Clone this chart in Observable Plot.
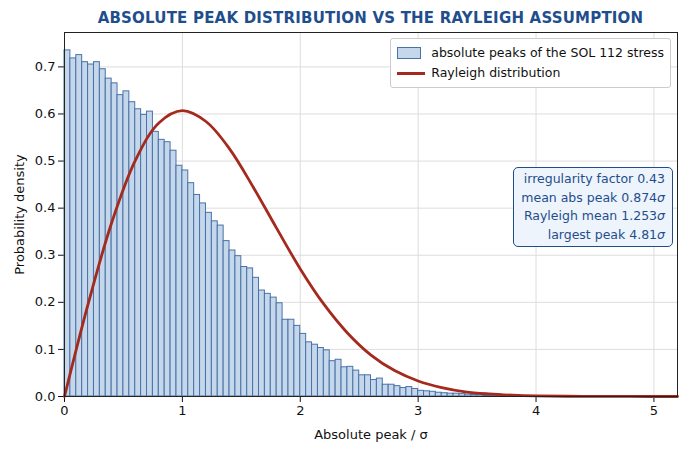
<!DOCTYPE html>
<html><head><meta charset="utf-8">
<script src="https://cdn.jsdelivr.net/npm/d3@7"></script>
<script src="https://cdn.jsdelivr.net/npm/@observablehq/plot@0.6"></script>
<style>
body{margin:0;font-family:"DejaVu Sans",sans-serif;background:#fff}
#wrap{position:relative;width:688px;height:456px}
#title{position:absolute;top:9px;left:64px;width:613px;text-align:center;font-weight:bold;font-size:15px;color:#1f4e8c;letter-spacing:0.2px}
#legend{position:absolute;top:38px;right:17px;background:#fff;border:1px solid #ccc;border-radius:3px;padding:4px 6px;font-size:12.5px;line-height:20px;color:#111}
#legend .row{display:flex;align-items:center}
#note{position:absolute;top:167px;right:15px;background:#eef4fb;border:1px solid #1f4e8c;border-radius:5px;padding:2px 7px;font-size:12.5px;line-height:18.5px;color:#1f4e8c;text-align:right}
#plot{position:absolute;top:0;left:0}
</style></head><body>
<div id="wrap"><div id="plot"></div><div id="title">ABSOLUTE PEAK DISTRIBUTION VS THE RAYLEIGH ASSUMPTION</div>
<div id="legend">
<div class="row"><span style="display:inline-block;width:22px;height:10px;background:#c5d7ea;border:1px solid #4a72a8;margin-right:10px"></span>absolute peaks of the SOL 112 stress</div>
<div class="row"><span style="display:inline-block;width:28px;height:3px;background:#a52a1e;margin-right:6px"></span>Rayleigh distribution</div>
</div>
<div id="note">irregularity factor 0.43<br>mean abs peak 0.874<i>σ</i><br>Rayleigh mean 1.253<i>σ</i><br>largest peak 4.81<i>σ</i></div>
</div>
<script>
const binWidth = 0.05;
const histDensity = [0.735,0.718,0.725,0.71,0.705,0.71,0.695,0.675,0.665,0.64,0.648,0.625,0.61,0.598,0.605,0.562,0.545,0.54,0.522,0.49,0.48,0.453,0.428,0.41,0.39,0.372,0.363,0.33,0.31,0.298,0.275,0.272,0.252,0.225,0.218,0.21,0.198,0.163,0.163,0.15,0.133,0.115,0.11,0.103,0.098,0.075,0.078,0.062,0.063,0.055,0.045,0.045,0.035,0.038,0.025,0.025,0.022,0.018,0.02,0.016,0.012,0.011,0.01,0.008,0.007,0.006,0.006,0.005,0.004,0.003,0.003,0.002,0.002,0.001,0.001,0.001];
const rayX = [0,0.2,0.4,0.6,0.8,1.0,1.2,1.4,1.6,1.8,2.0,2.2,2.4,2.6,2.8,3.0,3.2,3.4,3.6,3.8,4.0,4.4,4.8,5.2];
const rayY = [0,0.196,0.369,0.501,0.581,0.607,0.584,0.526,0.445,0.357,0.271,0.196,0.135,0.088,0.055,0.033,0.019,0.010,0.0055,0.0028,0.0013,0.0003,0.0001,0];
const bins = histDensity.map((d,i)=>({x1:i*binWidth,x2:(i+1)*binWidth,y:d}));
const ray = rayX.map((x,i)=>({x,y:rayY[i]}));
const p = Plot.plot({
  width:688,height:456,marginLeft:64,marginRight:11,marginTop:32,marginBottom:60,
  style:{fontFamily:"DejaVu Sans",fontSize:"13px",color:"#111"},
  x:{domain:[0,5.2],ticks:[0,1,2,3,4,5],tickFormat:d3.format("d"),grid:true,label:"Absolute peak / σ",labelArrow:"none",labelAnchor:"center",labelOffset:42},
  y:{domain:[0,0.773],ticks:[0,0.1,0.2,0.3,0.4,0.5,0.6,0.7],tickFormat:d3.format(".1f"),grid:true,label:"Probability density",labelArrow:"none",labelAnchor:"center",labelOffset:50},
  marks:[
    Plot.rectY(bins,{x1:"x1",x2:"x2",y:"y",fill:"#c5d7ea",stroke:"#4a72a8",strokeWidth:1,inset:0}),
    Plot.line(ray,{x:"x",y:"y",stroke:"#a52a1e",strokeWidth:2.8,curve:"catmull-rom"}),
    Plot.frame({stroke:"#222"})
  ]
});
p.querySelectorAll("[aria-label='x-grid'],[aria-label='y-grid']").forEach(g=>{g.setAttribute("stroke","#ddd");g.setAttribute("stroke-opacity","1")});
document.getElementById("plot").appendChild(p);
</script></body></html>
